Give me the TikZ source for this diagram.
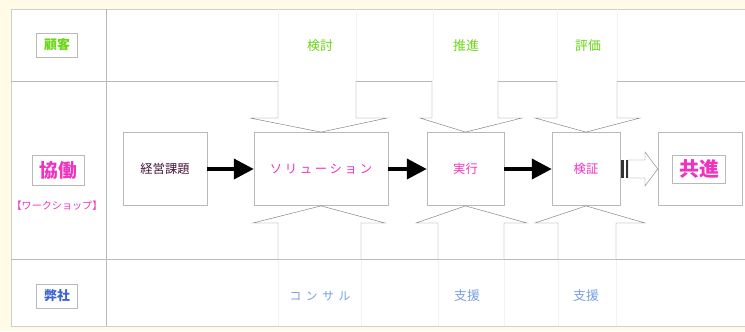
\documentclass[tikz,border=0pt]{standalone}
\usepackage{fontspec}
\setmainfont{Noto Sans CJK JP}
\usepackage{tikz}
\usetikzlibrary{arrows.meta}

\definecolor{cream}{RGB}{255,251,230}
\definecolor{rule}{RGB}{185,185,185}
\definecolor{faint}{RGB}{243,243,243}
\definecolor{leaf}{RGB}{105,215,20}
\definecolor{rose}{RGB}{240,50,190}
\definecolor{ours}{RGB}{60,100,210}
\definecolor{sky}{RGB}{120,160,225}
\definecolor{ink}{RGB}{70,20,60}

\begin{document}
\begin{tikzpicture}[
		x=0.03cm, y=-0.03cm
		,every node/.append style={inner sep=0pt}
		,box/.style={draw=rule, fill=white, minimum height=2.2cm}
		,tag/.style={draw=rule, fill=white, font=\bfseries\fontsize{11}{11}\selectfont, minimum width=1.23cm, minimum height=0.72cm}
		,blk/.style={draw=rule!70!black, fill=white, line width=0.4pt}
		,push/.style={line width=3.4pt, -{Triangle[length=0.6cm,width=0.6cm]}}
		,role/.style={font=\fontsize{11}{11}\selectfont}
		,step label/.style={font=\fontsize{10.5}{10.5}\selectfont}
	]
		\useasboundingbox (0,0) rectangle (745,331);
		\fill[cream] (0,0) rectangle (745,331);
		\fill[white] (11,9) rectangle (745,326);
		\draw[rule!70] (745,9) -- (11,9) -- (11,326) -- (745,326);

		% faint column lines
		\foreach \x in {278,356,433,498,557,617}
			\draw[faint] (\x,9) -- (\x,81);
		\foreach \x in {278,361,438,504,558,616}
			\draw[faint] (\x,259) -- (\x,326);

		% rows and first column
		\draw[rule] (11,81) -- (745,81);
		\draw[rule] (11,259) -- (745,259);
		\draw[rule] (106,9) -- (106,326);

		% left column
		\node [tag, text=leaf] (kokyaku) at (57,45) {顧客};
		\node [tag, text=rose, font=\bfseries\fontsize{16}{16}\selectfont, minimum width=1.56cm, minimum height=0.9cm] (kyodo) at (58,170) {協働};
		\node [text=rose, font=\fontsize{8.6}{8.6}\selectfont] (ws) at (57,206) {【ワークショップ】};
		\node [tag, text=ours] (heisha) at (57,296) {弊社};

		% process boxes
		\node [box, minimum width=2.52cm, text=ink, step label] (kadai) at (165,169) {経営課題};
		\node [box, minimum width=4.02cm, text=rose, font=\fontsize{10.5}{10.5}\selectfont\addfontfeatures{LetterSpace=22}] (sol) at (321,169) {ソリューション};
		\node [box, minimum width=2.31cm, text=rose, step label] (jikko) at (465.5,169) {実行};
		\node [box, minimum width=2.04cm, text=rose, step label] (kensho) at (586,169) {検証};
		\node [box, minimum width=2.52cm] (kyoshin) at (700,169) {};
		\node [draw=rule, text=rose, font=\bfseries\fontsize{17}{17}\selectfont, minimum width=1.59cm, minimum height=0.84cm] (kyoshinlbl) at (699,169) {共進};

		% client roles
		\node [role, text=leaf] (kento) at (320,46) {検討};
		\node [role, text=leaf] (suishin) at (466,46) {推進};
		\node [role, text=leaf] (hyoka) at (588,46) {評価};

		% our roles
		\node [role, text=sky, font=\fontsize{10}{10}\selectfont\addfontfeatures{LetterSpace=40}] (consul) at (320,296) {コンサル};
		\node [role, text=sky] (shien) at (467,296) {支援};
		\node [role, text=sky] (shien2) at (586,296) {支援};

		% block arrows from above and below
		\foreach \sa/\sb/\wa/\wb/\n in {278/356/250/387/sol, 432/498/420/522/jikko, 557/617/535/640/kensho}
			\draw[blk] (\sa,81) -- (\sa,118) -- (\wa,118) -- (\n.north) -- (\wb,118) -- (\sb,118) -- (\sb,81);
		\foreach \sa/\sb/\wa/\wb/\n in {278/361/253/385/sol, 438/504/416/527/jikko, 558/616/535/645/kensho}
			\draw[blk] (\sa,259) -- (\sa,223) -- (\wa,223) -- (\n.south) -- (\wb,223) -- (\sb,223) -- (\sb,259);

		% flow
		\draw[push] (kadai) -- (sol);
		\draw[push] (sol) -- (jikko);
		\draw[push] (jikko) -- (kensho);

		% open arrow to kyoshin
		\draw[blk] (628,160) -- (645,160) -- (645,152) -- (kyoshin.west) -- (645,186) -- (645,178) -- (628,178) -- cycle;
		\fill[black!80] (621,160) rectangle (624,178);
		\fill[black!80] (625.5,160) rectangle (628,178);
	\end{tikzpicture}
\end{document}
